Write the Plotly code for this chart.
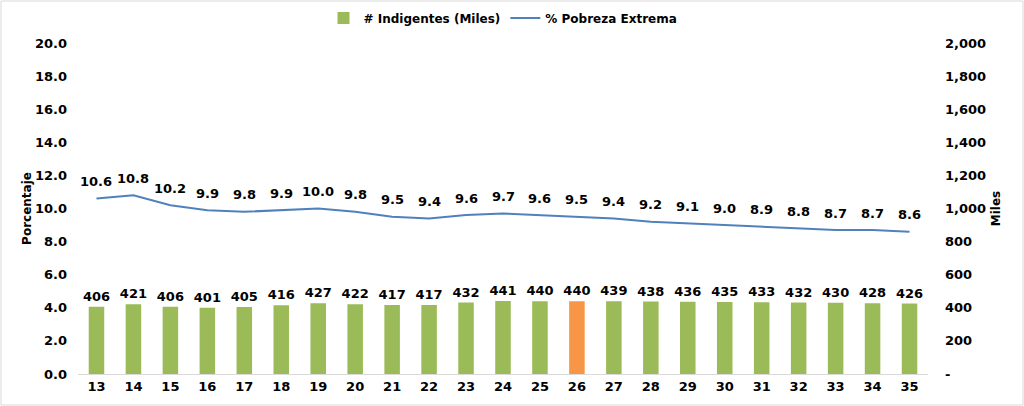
import plotly.graph_objects as go

categories = [str(c) for c in range(13, 36)]
indigentes = [406, 421, 406, 401, 405, 416, 427, 422, 417, 417, 432, 441, 440, 440,
              439, 438, 436, 435, 433, 432, 430, 428, 426]
pobreza = [10.6, 10.8, 10.2, 9.9, 9.8, 9.9, 10.0, 9.8, 9.5, 9.4, 9.6, 9.7, 9.6, 9.5,
           9.4, 9.2, 9.1, 9.0, 8.9, 8.8, 8.7, 8.7, 8.6]
highlight = "26"
left_ticks = [0, 2, 4, 6, 8, 10, 12, 14, 16, 18, 20]
right_ticks = [0, 200, 400, 600, 800, 1000, 1200, 1400, 1600, 1800, 2000]
right_ticktext = ["-"] + [f"{v:,}" for v in right_ticks[1:]]

GREEN = "#9BBB59"
ORANGE = "#F79646"
BLUE = "#4F81BD"
FONT = "DejaVu Sans"
BOLD = dict(family=FONT, size=13, color="#000000", weight="bold")

bar_colors = [ORANGE if c == highlight else GREEN for c in categories]

fig = go.Figure()
fig.add_trace(go.Bar(
    x=categories, y=indigentes, name="# Indigentes (Miles)", yaxis="y2",
    marker=dict(color=bar_colors, line=dict(width=0)),
    width=0.42,
    text=[str(v) for v in indigentes], textposition="outside",
    textfont=BOLD, outsidetextfont=BOLD, constraintext="none",
    cliponaxis=False,
))
fig.add_trace(go.Scatter(
    x=categories, y=pobreza, name="% Pobreza Extrema", yaxis="y",
    mode="lines", line=dict(color=BLUE, width=2),
    cliponaxis=False,
))

# on a category axis, annotation x is the category index
annotations = [dict(x=i, y=v, xref="x", yref="y", text=f"{v:.1f}", showarrow=False,
                    yshift=17, font=BOLD) for i, v in enumerate(pobreza)]

W, H = 1024, 406
ml, mr, mt, mb = 78, 96, 43, 32
pw, ph = W - ml - mr, H - mt - mb

fig.update_layout(
    width=W, height=H,
    margin=dict(l=ml, r=mr, t=mt, b=mb, autoexpand=False),
    paper_bgcolor="white", plot_bgcolor="white",
    font=dict(family=FONT, size=13, color="#000000", weight="bold"),
    showlegend=True,
    legend=dict(orientation="h", x=0.5, xanchor="center", y=1.0 + 25/ph, yanchor="middle",
                font=dict(family=FONT, size=12, color="#000000", weight="bold"),
                traceorder="normal"),
    bargap=0.5,
    annotations=annotations,
    xaxis=dict(type="category", range=[-0.5, len(categories) - 0.5],
               showgrid=False, showline=True, linecolor="#D9D9D9",
               linewidth=1, ticks="", tickfont=BOLD, zeroline=False, automargin=False),
    yaxis=dict(range=[0, 20], tickvals=left_ticks, ticktext=[f"{v:.1f}" for v in left_ticks],
               showgrid=False, zeroline=False, showline=False, ticks="", automargin=False,
               tickfont=BOLD, ticklabelstandoff=10,
               title=dict(text="Porcentaje", font=dict(family=FONT, size=12, color="#000", weight="bold"),
                          standoff=0)),
    yaxis2=dict(range=[0, 2000], overlaying="y", side="right", tickvals=right_ticks,
                ticktext=right_ticktext, showgrid=False, zeroline=False, showline=False, ticks="",
                automargin=False, tickfont=BOLD, ticklabelstandoff=16,
                title=dict(text="Miles", font=dict(family=FONT, size=12, color="#000", weight="bold"),
                           standoff=6)),
    shapes=[dict(type="rect", xref="paper", yref="paper",
                 x0=(-ml + 1) / pw, x1=(pw + mr - 1) / pw,
                 y0=(-mb + 1) / ph, y1=(ph + mt - 1) / ph,
                 line=dict(color="#D9D9D9", width=1), fillcolor="rgba(0,0,0,0)", layer="below")],
)

fig.write_html("out.html")
